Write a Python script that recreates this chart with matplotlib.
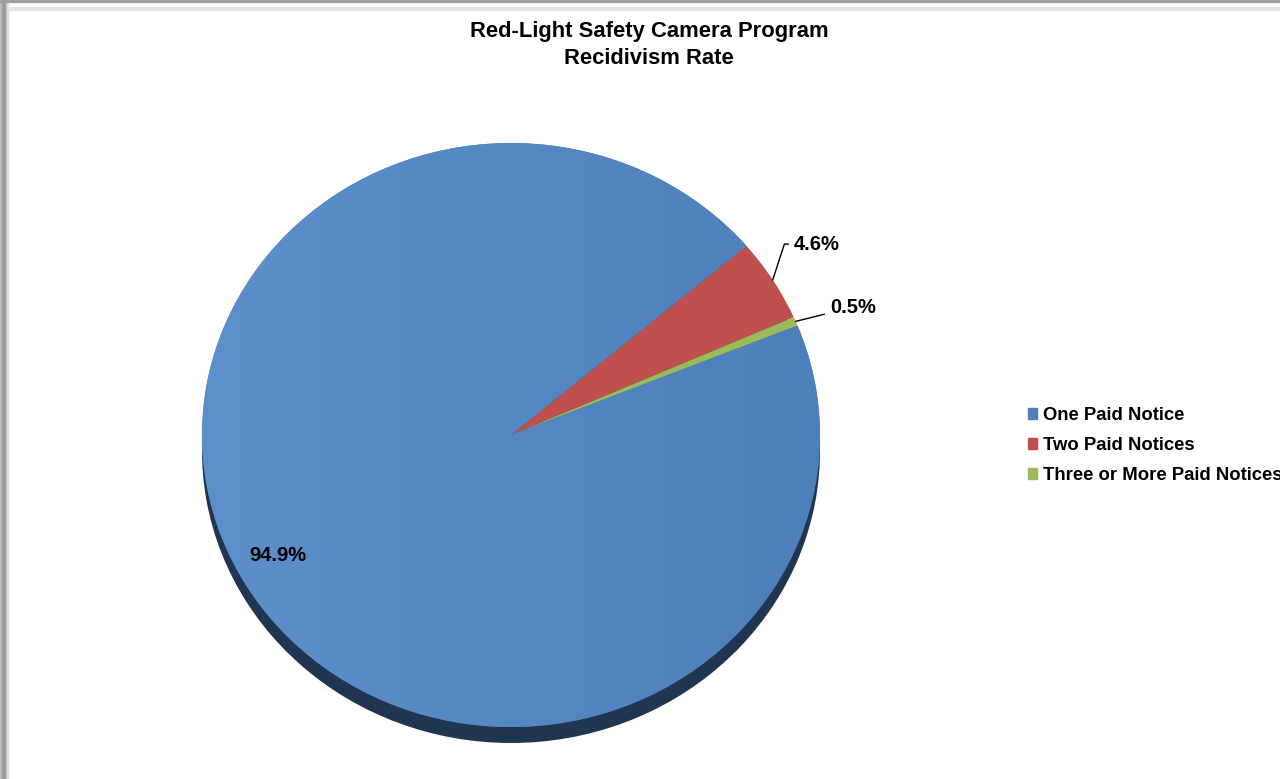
import numpy as np
import matplotlib
matplotlib.use("Agg")
import matplotlib.pyplot as plt
from matplotlib.patches import Rectangle
from matplotlib.colors import LinearSegmentedColormap

plt.rcParams['font.family'] = ['Liberation Sans', 'DejaVu Sans']

# data
categories = ['One Paid Notice', 'Two Paid Notices', 'Three or More Paid Notices']
shares = [94.9, 4.6, 0.5]
colors = ['#4f81bd', '#c0504d', '#9bbb59']
title = 'Red-Light Safety Camera Program\nRecidivism Rate'

W, H = 1280, 779
fig = plt.figure(figsize=(W / 100, H / 100), dpi=100)
fig.patch.set_facecolor('white')

# page frame (screenshot edges)
for i, c in enumerate(['#c4c4c4', '#b4b4b4', '#a6a6a6', '#9c9c9c', '#989898', '#a2a2a2', '#bcbcbc', '#dedede']):
    fig.patches.append(Rectangle((i / W, 0), 1 / W, 1, transform=fig.transFigure, color=c, zorder=0))
fig.patches.append(Rectangle((0, 1 - 2 / H), 1, 2 / H, transform=fig.transFigure, color='#a0a0a0', zorder=0))
fig.patches.append(Rectangle((8 / W, 1 - 9.5 / H), 1, 2.5 / H, transform=fig.transFigure, color='#e3e3e3', zorder=0))

# pie axes: ellipse centre (511, 435), rx 309, ry 292 px
cx, cy, rx, ry = 511, 435, 309, 292
ylo = -1.1
ax = fig.add_axes([(cx - rx) / W, 1 - (143 + (1 - ylo) * ry) / H, 2 * rx / W, (1 - ylo) * ry / H])
ax.axis('off')

start = 22
# dark base (3D edge)
shadow_dy = -16 / ry
ax.pie(shares, colors=['#1f3550'] * 3, startangle=start, counterclock=False,
       center=(0, shadow_dy), radius=1, frame=False,
       wedgeprops=dict(linewidth=0))
wedges, _ = ax.pie(shares, colors=colors, startangle=start, counterclock=False,
                   radius=1, frame=False, wedgeprops=dict(linewidth=0))
ax.set_xlim(-1, 1)
ax.set_ylim(ylo, 1)
ax.set_aspect('auto')

# soft left-to-right gradient on the big slice
grad = np.linspace(0, 1, 256).reshape(1, -1)
cmap = LinearSegmentedColormap.from_list('blu', ['#5d8fcb', '#4d7fbb'])
im = ax.imshow(grad, extent=[-1, 1, -1, 1], cmap=cmap, aspect='auto', zorder=wedges[0].get_zorder() + 0.1)
im.set_clip_path(wedges[0])
ax.set_xlim(-1, 1)
ax.set_ylim(ylo, 1)

# data labels
lbl = dict(fontsize=14.5, fontweight='bold', va='center', ha='left', zorder=5)
ax.text(-0.848, -0.414, '94.9%', **lbl)
ax.annotate('4.6%', xy=(0.847, 0.531), xytext=(0.916, 0.654), annotation_clip=False,
            arrowprops=dict(arrowstyle='-', color='black', lw=1,
                            connectionstyle='angle,angleA=0,angleB=72,rad=0', shrinkA=2, shrinkB=0),
            **lbl)
ax.annotate('0.5%', xy=(0.921, 0.389), xytext=(1.032, 0.438), annotation_clip=False,
            arrowprops=dict(arrowstyle='-', color='black', lw=1,
                            connectionstyle='arc3,rad=0', shrinkA=2, shrinkB=0),
            **lbl)

fig.text(649 / W, 1 - 45 / H, title, ha='center', va='center', fontsize=15.8,
         fontweight='bold', linespacing=1.32)

# legend
handles = [Rectangle((0, 0), 1, 1, color=c) for c in colors]
leg = fig.legend(handles, categories, loc='upper left', bbox_to_anchor=(1028 / W, 1 - 407 / H),
                 frameon=False, handlelength=0.5, handleheight=0.5, handletextpad=0.3,
                 labelspacing=0.7, borderaxespad=0, borderpad=0,
                 prop=dict(size=13.3, weight='bold'))

fig.savefig('out.png', dpi=100)
